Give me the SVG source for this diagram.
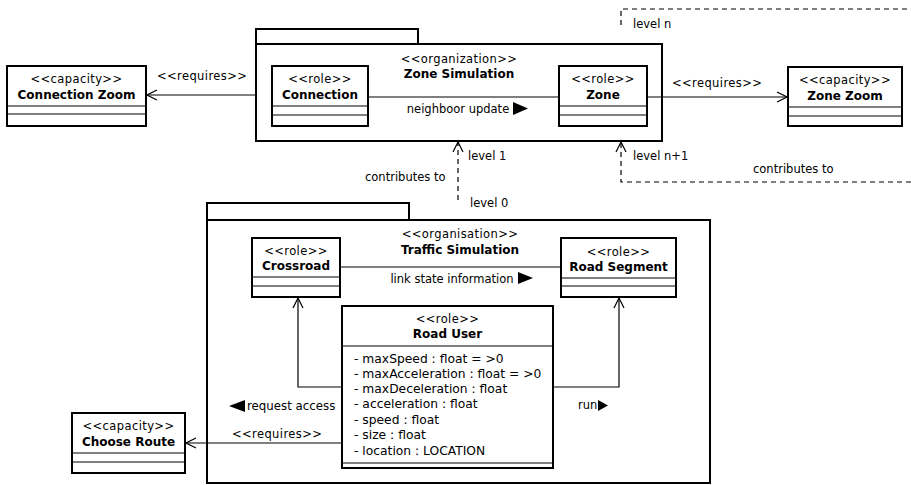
<svg xmlns="http://www.w3.org/2000/svg" width="911" height="485" viewBox="0 0 911 485">
<style>
text{font-family:"DejaVu Sans","Liberation Sans",sans-serif;font-size:11.5px;fill:#000}
.b{font-weight:bold;font-size:12px}
.m{text-anchor:middle}
.st{letter-spacing:0.4px}
.at{font-size:12.3px}
.box{fill:#fff;stroke:#000;stroke-width:2}
.pk{fill:#fff;stroke:#000;stroke-width:2}
.sep{stroke:#000;stroke-width:1.2;fill:none}
.ln{stroke:#000;stroke-width:1.2;fill:none}
.dash{stroke:#000;stroke-width:1.2;fill:none;stroke-dasharray:5,4}
.tri{fill:#000}
</style>
<defs>
<marker id="open" viewBox="0 0 12 12" refX="11" refY="6" markerWidth="12" markerHeight="12" markerUnits="userSpaceOnUse" orient="auto">
<path d="M1,1 L11,6 L1,11" fill="none" stroke="#000" stroke-width="1.2"/>
</marker>
</defs>

<g id="pkg-zone">
<rect class="pk" x="256" y="29" width="162" height="15"/>
<rect class="pk" x="256" y="44" width="406" height="97"/>
<text class="m st" x="459" y="63">&lt;&lt;organization&gt;&gt;</text>
<text class="b m" x="459" y="78">Zone Simulation</text>
</g>

<g id="pkg-traffic">
<rect class="pk" x="207" y="203" width="202" height="17"/>
<rect class="pk" x="207" y="220" width="503" height="263"/>
<text class="m st" x="460" y="238">&lt;&lt;organisation&gt;&gt;</text>
<text class="b m" x="460" y="254">Traffic Simulation</text>
</g>

<g id="connectors">
<line class="ln" x1="256" y1="95" x2="147" y2="95" marker-end="url(#open)"/>
<line class="ln" x1="368" y1="97" x2="559" y2="97"/>
<line class="ln" x1="647" y1="97" x2="787" y2="97" marker-end="url(#open)"/>
<line class="dash" x1="458" y1="200" x2="458" y2="142" marker-end="url(#open)"/>
<polyline class="dash" points="911,182 621,182 621,142" marker-end="url(#open)"/>
<polyline class="dash" points="621,25 621,9 911,9"/>
<line class="ln" x1="340" y1="267" x2="561" y2="267"/>
<polyline class="ln" points="342,387 298,387 298,298" marker-end="url(#open)"/>
<polyline class="ln" points="553,387 619,387 619,298" marker-end="url(#open)"/>
<line class="ln" x1="342" y1="443" x2="186" y2="443" marker-end="url(#open)"/>
<text class="st" x="157" y="80">&lt;&lt;requires&gt;&gt;</text>
<text class="m" x="458" y="113">neighboor update</text>
<polygon class="tri" points="513,102 528,108.5 513,115"/>
<text class="st" x="672" y="87">&lt;&lt;requires&gt;&gt;</text>
<text x="633" y="28">level n</text>
<text x="633" y="160">level n+1</text>
<text x="753" y="173">contributes to</text>
<text x="468" y="160">level 1</text>
<text x="365" y="181">contributes to</text>
<text x="470" y="207">level 0</text>
<text class="m" x="452" y="283">link state information</text>
<polygon class="tri" points="518,272 533,278 518,284"/>
<polygon class="tri" points="245,400 229,406 245,412"/>
<text x="247" y="410" style="font-size:11.8px">request access</text>
<text x="578" y="409">run</text>
<polygon class="tri" points="598,400 608,405.5 598,411"/>
<text class="st" x="232" y="438">&lt;&lt;requires&gt;&gt;</text>
</g>

<g id="connection-zoom">
<rect class="box" x="7" y="66" width="139" height="60"/>
<line class="sep" x1="7" y1="106" x2="146" y2="106"/>
<line class="sep" x1="7" y1="114" x2="146" y2="114"/>
<text class="m st" x="76.5" y="83">&lt;&lt;capacity&gt;&gt;</text>
<text class="b m" x="76.5" y="99">Connection Zoom</text>
</g>

<g id="connection">
<rect class="box" x="272" y="66" width="96" height="60"/>
<line class="sep" x1="272" y1="106" x2="368" y2="106"/>
<line class="sep" x1="272" y1="115" x2="368" y2="115"/>
<text class="m st" x="320" y="83">&lt;&lt;role&gt;&gt;</text>
<text class="b m" x="320" y="99">Connection</text>
</g>

<g id="zone">
<rect class="box" x="559" y="66" width="88" height="60"/>
<line class="sep" x1="559" y1="106" x2="647" y2="106"/>
<line class="sep" x1="559" y1="115" x2="647" y2="115"/>
<text class="m st" x="603" y="83">&lt;&lt;role&gt;&gt;</text>
<text class="b m" x="603" y="99">Zone</text>
</g>

<g id="zone-zoom">
<rect class="box" x="788" y="67" width="114" height="59"/>
<line class="sep" x1="788" y1="107" x2="902" y2="107"/>
<line class="sep" x1="788" y1="116" x2="902" y2="116"/>
<text class="m st" x="845" y="84">&lt;&lt;capacity&gt;&gt;</text>
<text class="b m" x="845" y="100">Zone Zoom</text>
</g>

<g id="crossroad">
<rect class="box" x="252" y="238" width="88" height="59"/>
<line class="sep" x1="252" y1="277" x2="340" y2="277"/>
<line class="sep" x1="252" y1="286" x2="340" y2="286"/>
<text class="m st" x="296" y="255">&lt;&lt;role&gt;&gt;</text>
<text class="b m" x="296" y="270">Crossroad</text>
</g>

<g id="road-segment">
<rect class="box" x="561" y="238" width="115" height="59"/>
<line class="sep" x1="561" y1="278" x2="676" y2="278"/>
<line class="sep" x1="561" y1="286" x2="676" y2="286"/>
<text class="m st" x="618.5" y="256">&lt;&lt;role&gt;&gt;</text>
<text class="b m" x="618.5" y="271">Road Segment</text>
</g>

<g id="road-user">
<rect class="box" x="342" y="306" width="211" height="162"/>
<line class="sep" x1="342" y1="346" x2="553" y2="346"/>
<line class="sep" x1="342" y1="463" x2="553" y2="463"/>
<text class="m st" x="447.5" y="323">&lt;&lt;role&gt;&gt;</text>
<text class="b m" x="447.5" y="338">Road User</text>
<text class="at" x="354" y="363">- maxSpeed : float = &gt;0</text>
<text class="at" x="354" y="378">- maxAcceleration : float = &gt;0</text>
<text class="at" x="354" y="393">- maxDeceleration : float</text>
<text class="at" x="354" y="408">- acceleration : float</text>
<text class="at" x="354" y="424">- speed : float</text>
<text class="at" x="354" y="439">- size : float</text>
<text class="at" x="354" y="455">- location : LOCATION</text>
</g>

<g id="choose-route">
<rect class="box" x="72" y="413" width="113" height="60"/>
<line class="sep" x1="72" y1="453" x2="185" y2="453"/>
<line class="sep" x1="72" y1="462" x2="185" y2="462"/>
<text class="m st" x="128.5" y="430">&lt;&lt;capacity&gt;&gt;</text>
<text class="b m" x="128.5" y="446">Choose Route</text>
</g>
</svg>
